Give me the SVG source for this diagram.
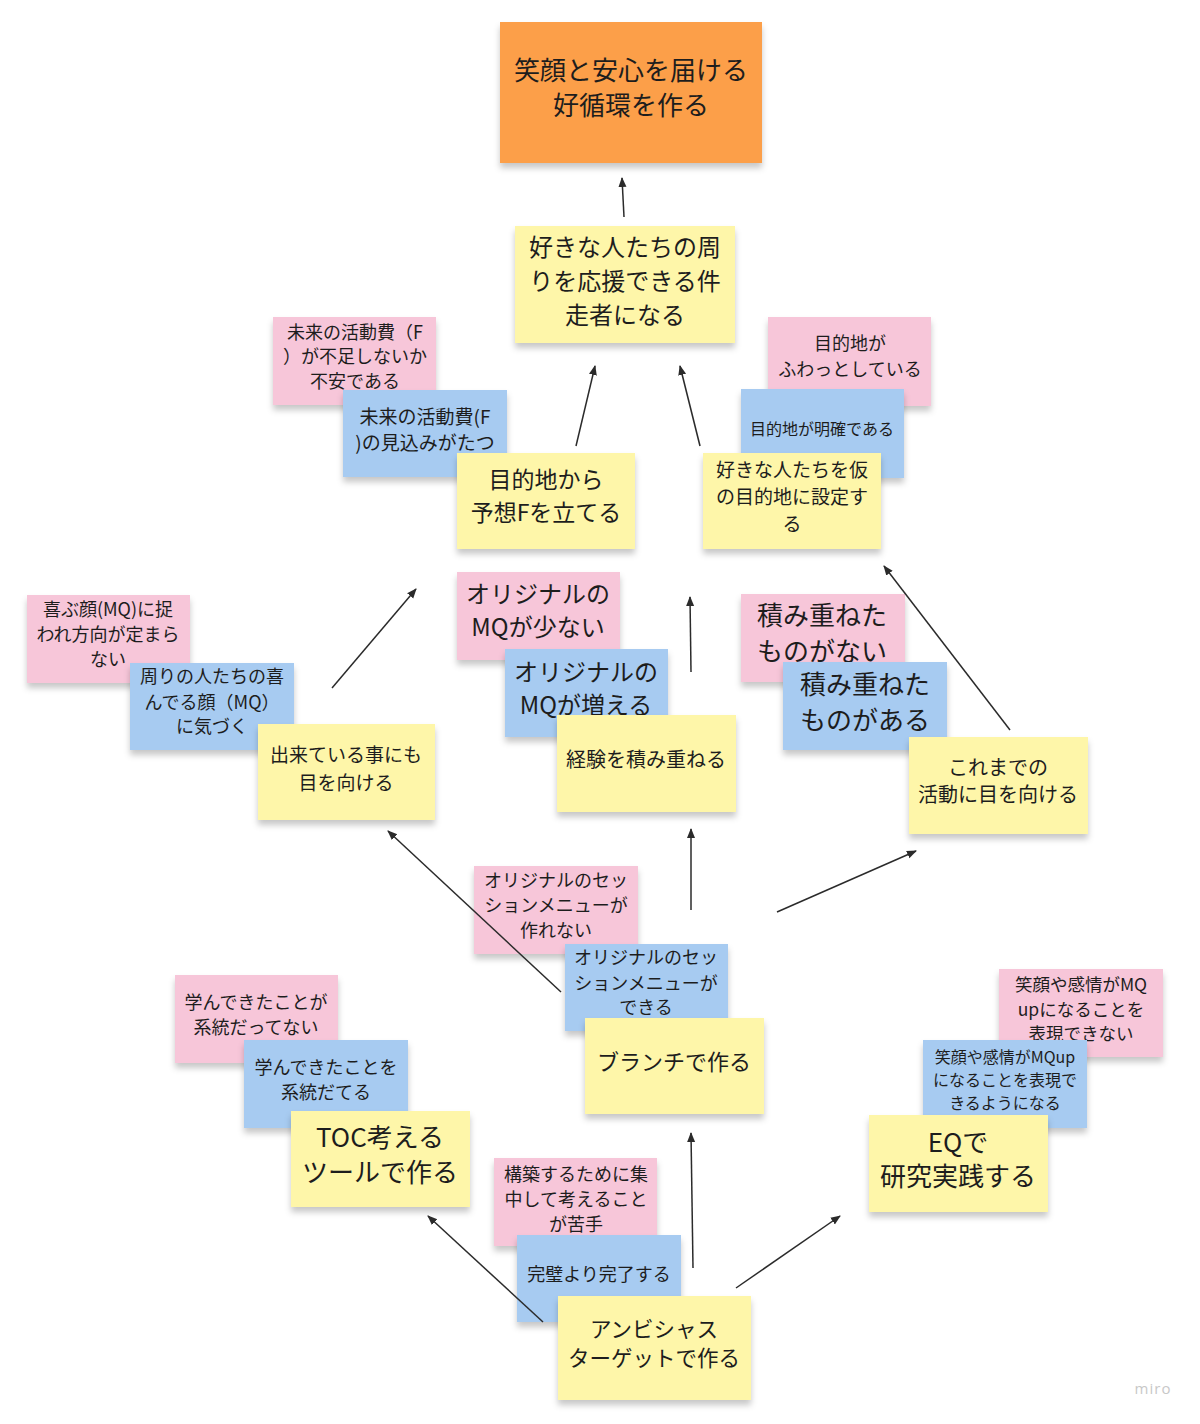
<svg xmlns="http://www.w3.org/2000/svg" width="1200" height="1424" viewBox="0 0 1200 1424">
<defs>
<filter id="sh" x="-10%" y="-10%" width="120%" height="130%">
<feDropShadow dx="0" dy="5" stdDeviation="3" flood-color="#000" flood-opacity="0.22"/>
</filter>
<marker id="ah" viewBox="0 0 10 10" refX="9" refY="5" markerWidth="10" markerHeight="10" markerUnits="userSpaceOnUse" orient="auto">
<path d="M0,1 L10,5 L0,9 z" fill="#2b2b2b"/>
</marker>
</defs>
<style>
.s{filter:url(#sh)}
.o{fill:#FC9F4A}
.p{fill:#F7C6D9}
.b{fill:#A7CBF1}
.y{fill:#FEF6A9}
text{font-family:"Noto Sans CJK JP","Noto Sans",sans-serif;fill:#1d1d1d;text-anchor:middle;dominant-baseline:central;transform:translateY(-2px)}
.c line{stroke:#2b2b2b;stroke-width:1.5;marker-end:url(#ah)}
</style>
<rect width="1200" height="1424" fill="#ffffff"/>

<g id="goal"><rect class="s o" x="500" y="22" width="262" height="141"/>
<text font-size="26"><tspan x="631" y="70">笑顔と安心を届ける</tspan><tspan x="631" y="105">好循環を作る</tspan></text></g>

<g id="n1"><rect class="s y" x="515" y="226" width="220" height="117"/>
<text font-size="24"><tspan x="625" y="247">好きな人たちの周</tspan><tspan x="625" y="281">りを応援できる件</tspan><tspan x="625" y="315">走者になる</tspan></text></g>

<g id="p1"><rect class="s p" x="273" y="317" width="163" height="88"/>
<text font-size="18"><tspan x="355" y="333">未来の活動費（F</tspan><tspan x="355" y="357">）が不足しないか</tspan><tspan x="355" y="382">不安である</tspan></text></g>
<g id="b1"><rect class="s b" x="343" y="390" width="164" height="87"/>
<text font-size="19"><tspan x="425" y="417">未来の活動費(F</tspan><tspan x="425" y="443">)の見込みがたつ</tspan></text></g>
<g id="y1"><rect class="s y" x="457" y="453" width="178" height="96"/>
<text font-size="23"><tspan x="546" y="480">目的地から</tspan><tspan x="546" y="513">予想Fを立てる</tspan></text></g>

<g id="p2"><rect class="s p" x="768" y="317" width="163" height="89"/>
<text font-size="18"><tspan x="850" y="344">目的地が</tspan><tspan x="850" y="370">ふわっとしている</tspan></text></g>
<g id="b2"><rect class="s b" x="741" y="389" width="163" height="89"/>
<text font-size="16"><tspan x="822" y="430">目的地が明確である</tspan></text></g>
<g id="y2"><rect class="s y" x="703" y="453" width="178" height="96"/>
<text font-size="19"><tspan x="792" y="470">好きな人たちを仮</tspan><tspan x="792" y="497">の目的地に設定す</tspan><tspan x="792" y="524">る</tspan></text></g>

<g id="p3"><rect class="s p" x="27" y="595" width="163" height="88"/>
<text font-size="18"><tspan x="108" y="610">喜ぶ顔(MQ)に捉</tspan><tspan x="108" y="635">われ方向が定まら</tspan><tspan x="108" y="660">ない</tspan></text></g>
<g id="b3"><rect class="s b" x="130" y="663" width="164" height="87"/>
<text font-size="18"><tspan x="212" y="677">周りの人たちの喜</tspan><tspan x="212" y="703">んでる顔（MQ）</tspan><tspan x="212" y="727">に気づく</tspan></text></g>
<g id="y3"><rect class="s y" x="258" y="724" width="177" height="96"/>
<text font-size="19"><tspan x="346" y="755">出来ている事にも</tspan><tspan x="346" y="783">目を向ける</tspan></text></g>

<g id="p4"><rect class="s p" x="457" y="572" width="163" height="88"/>
<text font-size="24"><tspan x="538" y="594">オリジナルの</tspan><tspan x="538" y="627">MQが少ない</tspan></text></g>
<g id="b4"><rect class="s b" x="505" y="649" width="163" height="88"/>
<text font-size="24"><tspan x="586" y="672">オリジナルの</tspan><tspan x="586" y="705">MQが増える</tspan></text></g>
<g id="y4"><rect class="s y" x="557" y="715" width="179" height="97"/>
<text font-size="20"><tspan x="646" y="760">経験を積み重ねる</tspan></text></g>

<g id="p5"><rect class="s p" x="741" y="594" width="164" height="88"/>
<text font-size="26"><tspan x="822" y="615">積み重ねた</tspan><tspan x="822" y="651">ものがない</tspan></text></g>
<g id="b5"><rect class="s b" x="783" y="662" width="164" height="88"/>
<text font-size="26"><tspan x="865" y="684">積み重ねた</tspan><tspan x="865" y="720">ものがある</tspan></text></g>
<g id="y5"><rect class="s y" x="909" y="737" width="179" height="97"/>
<text font-size="20"><tspan x="998" y="768">これまでの</tspan><tspan x="998" y="795">活動に目を向ける</tspan></text></g>

<g id="p6"><rect class="s p" x="474" y="866" width="164" height="88"/>
<text font-size="18"><tspan x="556" y="881">オリジナルのセッ</tspan><tspan x="556" y="906">ションメニューが</tspan><tspan x="556" y="931">作れない</tspan></text></g>
<g id="b6"><rect class="s b" x="565" y="944" width="163" height="87"/>
<text font-size="18"><tspan x="646" y="958">オリジナルのセッ</tspan><tspan x="646" y="984">ションメニューが</tspan><tspan x="646" y="1008">できる</tspan></text></g>
<g id="y6"><rect class="s y" x="585" y="1018" width="179" height="96"/>
<text font-size="22"><tspan x="674" y="1062">ブランチで作る</tspan></text></g>

<g id="p7"><rect class="s p" x="175" y="975" width="163" height="88"/>
<text font-size="18"><tspan x="256" y="1003">学んできたことが</tspan><tspan x="256" y="1028">系統だってない</tspan></text></g>
<g id="b7"><rect class="s b" x="244" y="1040" width="164" height="88"/>
<text font-size="18"><tspan x="326" y="1068">学んできたことを</tspan><tspan x="326" y="1093">系統だてる</tspan></text></g>
<g id="y7"><rect class="s y" x="291" y="1111" width="179" height="96"/>
<text font-size="26"><tspan x="380" y="1137">TOC考える</tspan><tspan x="380" y="1172">ツールで作る</tspan></text></g>

<g id="p8"><rect class="s p" x="999" y="969" width="164" height="88"/>
<text font-size="17.5"><tspan x="1081" y="985">笑顔や感情がMQ</tspan><tspan x="1081" y="1010">upになることを</tspan><tspan x="1081" y="1034">表現できない</tspan></text></g>
<g id="b8"><rect class="s b" x="923" y="1040" width="164" height="88"/>
<text font-size="16"><tspan x="1005" y="1058">笑顔や感情がMQup</tspan><tspan x="1005" y="1081">になることを表現で</tspan><tspan x="1005" y="1104">きるようになる</tspan></text></g>
<g id="y8"><rect class="s y" x="869" y="1115" width="179" height="97"/>
<text font-size="26"><tspan x="958" y="1142">EQで</tspan><tspan x="958" y="1176">研究実践する</tspan></text></g>

<g id="p9"><rect class="s p" x="494" y="1158" width="163" height="88"/>
<text font-size="18"><tspan x="576" y="1175">構築するために集</tspan><tspan x="576" y="1200">中して考えること</tspan><tspan x="576" y="1225">が苦手</tspan></text></g>
<g id="b9"><rect class="s b" x="517" y="1235" width="164" height="87"/>
<text font-size="18"><tspan x="599" y="1275">完璧より完了する</tspan></text></g>
<g id="y9"><rect class="s y" x="558" y="1296" width="193" height="104"/>
<text font-size="21.5"><tspan x="654" y="1329">アンビシャス</tspan><tspan x="654" y="1358">ターゲットで作る</tspan></text></g>

<g id="connectors" class="c">
<line x1="624" y1="217" x2="622" y2="178"/>
<line x1="576" y1="446" x2="595" y2="366"/>
<line x1="700" y1="446" x2="680" y2="366"/>
<line x1="332" y1="688" x2="416" y2="589"/>
<line x1="691" y1="672" x2="690" y2="597"/>
<line x1="1010" y1="730" x2="884" y2="566"/>
<line x1="561" y1="992" x2="388" y2="831"/>
<line x1="691" y1="910" x2="691" y2="829"/>
<line x1="777" y1="912" x2="916" y2="851"/>
<line x1="543" y1="1322" x2="428" y2="1216"/>
<line x1="693" y1="1268" x2="691" y2="1133"/>
<line x1="736" y1="1288" x2="840" y2="1216"/>
</g>
<text x="1153" y="1390" font-size="15" style="fill:#c8c8c8;font-family:'Open Sans',sans-serif;letter-spacing:1px">miro</text>
</svg>
